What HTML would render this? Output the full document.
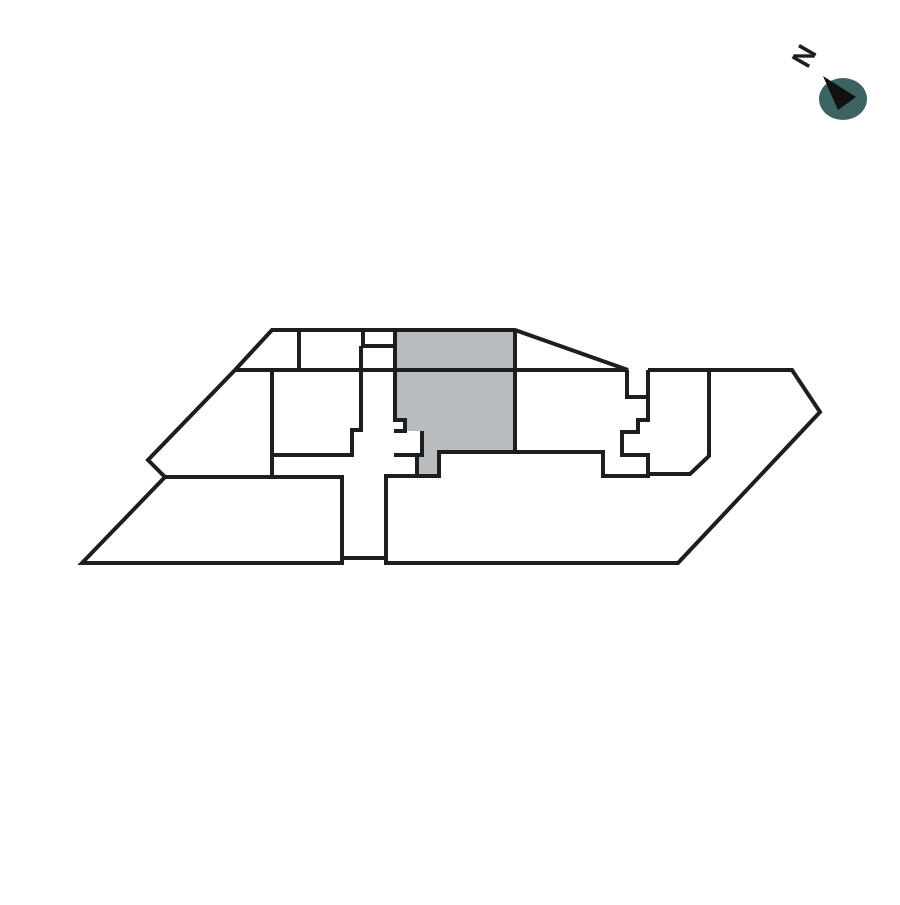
<!DOCTYPE html>
<html><head><style>body{margin:0;background:#fff}</style></head><body>
<svg width="900" height="900" viewBox="0 0 900 900" xmlns="http://www.w3.org/2000/svg">
<rect width="900" height="900" fill="#fff"/>
<polygon points="395,330 515,330 515,452 439,452 439,476 417,476 417,455 422,455 422,431 405,431 405,420 395,420" fill="#b8bcbf"/>
<g fill="none" stroke="#1e1e1e" stroke-width="4" stroke-linejoin="miter">
<polyline points="235,370 272,330 515,330 628,370"/>
<line x1="235" y1="370" x2="628" y2="370"/>
<line x1="299" y1="330" x2="299" y2="370"/>
<polyline points="363,330 363,346 393,346"/>
<polyline points="395,330 395,420 405,420 405,431 394,431"/>
<polyline points="394,455 422,455 422,431"/>
<line x1="515" y1="330" x2="515" y2="452"/>
<polyline points="515,452 439,452 439,476 417,476 417,455"/>
<polyline points="235,370 148,460 165,477 82,563 342,563 342,477 165,477"/>
<line x1="272" y1="370" x2="272" y2="477"/>
<polyline points="361,346 361,430 352,430 352,455 272,455"/>
<polyline points="342,558 386,558"/>
<polyline points="417,476 386,476 386,563 678,563 820,412 792,370 648,370"/>
<polyline points="515,452 603,452 603,476 648,476 648,455 622,455 622,432 638,432 638,420 648,420 648,397 627,397 627,370"/>
<polyline points="648,370 648,397"/>
<polyline points="648,474 690,474 709,456 709,370"/>
</g>
<ellipse cx="843" cy="99" rx="24" ry="21" fill="#3d6262"/>
<polygon points="823,76 856,97 838,110" fill="#111"/>
<text x="0" y="0" transform="translate(806,57) rotate(-60)" font-family="Liberation Sans, sans-serif" font-weight="bold" font-size="28" fill="#1e1e1e" text-anchor="middle" dominant-baseline="middle">N</text>
</svg>
</body></html>
